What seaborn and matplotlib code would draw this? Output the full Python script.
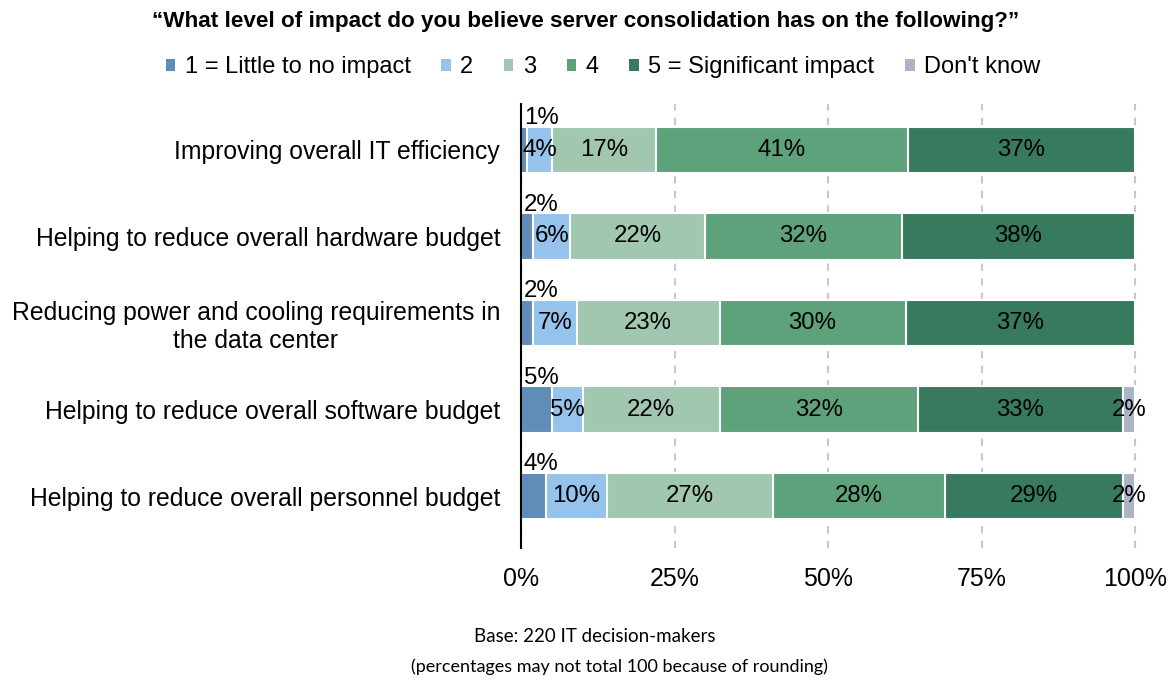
import numpy as np
import pandas as pd
import matplotlib
matplotlib.use("Agg")
import matplotlib.pyplot as plt
from matplotlib.patches import Patch
import seaborn as sns

# Survey categories (top to bottom)
categories = [
    "Improving overall IT efficiency",
    "Helping to reduce overall hardware budget",
    "Reducing power and cooling requirements in\nthe data center",
    "Helping to reduce overall software budget",
    "Helping to reduce overall personnel budget",
]

# Rating labels for the legend
series_names = ["1 = Little to no impact", "2", "3", "4",
                "5 = Significant impact", "Don't know"]

# Percent of respondents per rating
little_impact = [1, 2, 2, 5, 4]
rating_2 = [4, 6, 7, 5, 10]
rating_3 = [17, 22, 23, 22, 27]
rating_4 = [41, 32, 30, 32, 28]
significant_impact = [37, 38, 37, 33, 29]
dont_know = [0, 0, 0, 2, 2]

x_ticks = [0, 25, 50, 75, 100]
x_tick_labels = ["0%", "25%", "50%", "75%", "100%"]

colors = ["#5f8db8", "#96c3ec", "#a1c7b1", "#5ea27c", "#377a5e", "#aab4c4"]

title = "\u201cWhat level of impact do you believe server consolidation has on the following?\u201d"
footer_1 = "Base: 220 IT decision-makers"
footer_2 = "(percentages may not total 100 because of rounding)"

sns.set_theme(style="white")
plt.rcParams["font.family"] = ["Liberation Sans", "DejaVu Sans"]
plt.rcParams["text.color"] = "black"

series = [little_impact, rating_2, rating_3, rating_4, significant_impact, dont_know]
values = np.array(series, dtype=float).T            # rows = categories
shares = values / values.sum(axis=1, keepdims=True) * 100   # 100% stacked
cum_end = np.cumsum(shares, axis=1)
cum_start = cum_end - shares

fig = plt.figure(figsize=(11.71, 6.80), dpi=100)
ax = fig.add_axes([521 / 1171, 1 - 548 / 680, 616 / 1171, 444 / 680])

bar_h = 0.54
# Stacked bars: draw cumulative totals from the outermost segment inwards
for k in range(len(series_names) - 1, -1, -1):
    df = pd.DataFrame({"category": categories, "end": cum_end[:, k]})
    sns.barplot(data=df, x="end", y="category", orient="h", color=colors[k],
                saturation=1, width=bar_h, edgecolor="white", linewidth=1.5,
                ax=ax, zorder=2)

# Segment value labels
for i in range(len(categories)):
    for k in range(len(series_names)):
        v = values[i, k]
        if v <= 0:
            continue
        label = f"{int(v)}%"
        if k == 0:
            ax.text(3.3, i - bar_h / 2 + 0.03, label, ha="center", va="bottom",
                    fontsize=17.3, color="black", zorder=3)
        else:
            ax.text((cum_start[i, k] + cum_end[i, k]) / 2, i, label,
                    ha="center", va="center", fontsize=17.3, color="black", zorder=3)

ax.set_xlim(0, 100.3)
ax.set_ylim(4.6, -0.53)
ax.set_xticks(x_ticks)
ax.set_xticklabels(x_tick_labels, fontsize=18)
ax.set_xlabel("")
ax.set_ylabel("")
ax.tick_params(axis="x", length=0, pad=14, labelcolor="black")
ax.tick_params(axis="y", length=0, pad=15, labelsize=17.8, labelcolor="black")
for lab in ax.get_yticklabels():
    lab.set_multialignment("center")

ax.xaxis.grid(True, linestyle=(0, (3.5, 3.5)), color="#c8c8c8", linewidth=1.5, zorder=0)
ax.yaxis.grid(False)
ax.set_axisbelow(True)
for side in ["top", "right", "bottom"]:
    ax.spines[side].set_visible(False)
ax.spines["left"].set_color("black")
ax.spines["left"].set_linewidth(1.5)
ax.spines["left"].set_zorder(4)

fig.text(586 / 1171, 1 - 21 / 680, title, ha="center", va="center",
         fontsize=16.2, fontweight="bold", color="black")

handles = [Patch(facecolor=c, edgecolor="none") for c in colors]
fig.legend(handles, series_names, loc="center", ncol=6, frameon=False,
           bbox_to_anchor=(603 / 1171, 1 - 67 / 680), fontsize=17,
           handlelength=0.4, handleheight=0.4, handletextpad=0.4,
           columnspacing=1.3, labelcolor="black")

fig.text(595 / 1171, 1 - 636 / 680, footer_1, ha="center", va="center",
         fontsize=13.5, family=["Lato", "DejaVu Sans"], color="black")
fig.text(619 / 1171, 1 - 667 / 680, footer_2, ha="center", va="center",
         fontsize=13, family=["Lato", "DejaVu Sans"], color="black")

fig.savefig("out.png", dpi=100, facecolor="white")
